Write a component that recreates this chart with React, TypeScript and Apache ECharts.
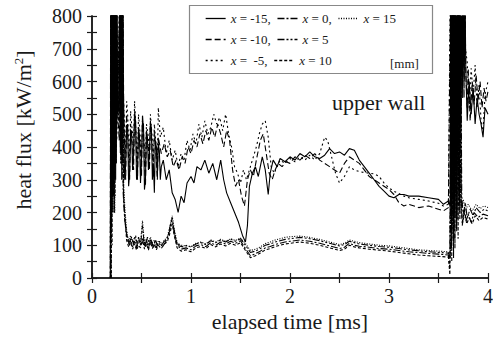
import React, { useEffect, useRef } from "react";
import * as echarts from "echarts";

// elapsed time [ms], heat flux [kW/m2]
const seriesNames = ["x = -15", "x = -10", "x = -5", "x = 0", "x = 5", "x = 10", "x = 15"];

const xm15: number[][] = [
  [0.185, 0], [0.19, 900], [0.193, 150], [0.197, 900], [0.2, 300], [0.204, 900], [0.207, 250], [0.211, 900], [0.215, 400], [0.219, 900],
  [0.223, 200], [0.227, 900], [0.231, 350], [0.235, 900], [0.239, 300], [0.243, 900], [0.247, 450], [0.25, 900], [0.26, 500], [0.27, 520],
  [0.28, 900], [0.285, 420], [0.29, 900], [0.295, 380], [0.3, 900], [0.305, 450], [0.31, 900], [0.32, 480], [0.33, 300], [0.34, 350],
  [0.35, 450], [0.36, 470], [0.37, 280], [0.38, 320], [0.39, 440], [0.4, 450], [0.41, 330], [0.42, 380], [0.43, 500], [0.44, 480],
  [0.45, 300], [0.46, 330], [0.47, 460], [0.48, 420], [0.49, 290], [0.5, 360], [0.51, 480], [0.52, 470], [0.53, 270], [0.54, 300],
  [0.55, 450], [0.56, 430], [0.57, 330], [0.58, 380], [0.59, 470], [0.6, 460], [0.61, 300], [0.62, 350], [0.63, 260], [0.64, 420],
  [0.65, 400], [0.66, 310], [0.67, 410], [0.68, 390], [0.69, 300], [0.7, 340], [0.72, 360], [0.75, 300], [0.78, 330], [0.81, 260],
  [0.84, 240], [0.87, 200], [0.9, 250], [0.93, 230], [0.96, 290], [1.0, 310], [1.03, 290], [1.06, 340], [1.1, 330], [1.14, 360],
  [1.18, 320], [1.22, 350], [1.26, 300], [1.3, 360], [1.33, 300], [1.36, 260], [1.4, 230], [1.44, 200], [1.48, 170], [1.52, 130],
  [1.55, 110], [1.57, 160], [1.59, 280], [1.62, 320], [1.65, 340], [1.68, 310], [1.72, 370], [1.75, 330], [1.78, 255], [1.8, 320],
  [1.83, 360], [1.87, 340], [1.9, 365], [1.95, 355], [2.0, 370], [2.05, 360], [2.1, 380], [2.15, 370], [2.2, 385], [2.25, 370],
  [2.3, 365], [2.35, 375], [2.4, 395], [2.45, 380], [2.5, 385], [2.55, 375], [2.6, 395], [2.65, 390], [2.7, 360], [2.75, 340],
  [2.8, 320], [2.85, 300], [2.9, 280], [2.95, 265], [3.0, 250], [3.05, 245], [3.1, 255], [3.15, 255], [3.2, 250], [3.3, 250],
  [3.4, 245], [3.5, 240], [3.55, 225], [3.6, 235], [3.62, 220], [3.625, 900], [3.632, 150], [3.64, 900], [3.648, 250], [3.656, 900],
  [3.664, 300], [3.672, 900], [3.68, 350], [3.688, 900], [3.696, 400], [3.704, 900], [3.712, 450], [3.72, 900], [3.728, 500], [3.736, 900],
  [3.744, 550], [3.752, 900], [3.76, 600], [3.768, 900], [3.775, 650], [3.79, 480], [3.81, 600], [3.83, 500], [3.85, 580], [3.87, 470],
  [3.89, 550], [3.91, 500], [3.93, 470], [3.95, 430], [3.97, 520], [4.0, 500],
];

const xm10: number[][] = [
  [0.185, 0], [0.188, 900], [0.192, 200], [0.196, 900], [0.2, 350], [0.203, 900], [0.206, 300], [0.21, 900], [0.214, 250], [0.218, 900],
  [0.222, 400], [0.226, 900], [0.23, 300], [0.234, 900], [0.238, 450], [0.242, 900], [0.246, 350], [0.249, 900], [0.26, 500], [0.275, 420],
  [0.282, 900], [0.287, 400], [0.292, 900], [0.297, 450], [0.302, 900], [0.308, 500], [0.312, 900], [0.32, 520], [0.33, 400], [0.34, 300],
  [0.35, 500], [0.36, 440], [0.37, 360], [0.38, 300], [0.39, 470], [0.4, 420], [0.41, 400], [0.42, 330], [0.43, 510], [0.44, 470],
  [0.45, 370], [0.46, 300], [0.47, 460], [0.48, 430], [0.49, 390], [0.5, 310], [0.51, 500], [0.52, 450], [0.53, 350], [0.54, 280],
  [0.55, 440], [0.56, 400], [0.57, 400], [0.58, 330], [0.59, 480], [0.6, 430], [0.61, 380], [0.62, 310], [0.63, 450], [0.64, 410],
  [0.65, 360], [0.66, 300], [0.67, 430], [0.7, 380], [0.73, 410], [0.76, 370], [0.79, 390], [0.82, 340], [0.85, 360], [0.88, 330],
  [0.91, 370], [0.94, 350], [0.97, 400], [1.0, 380], [1.03, 420], [1.06, 400], [1.09, 440], [1.12, 410], [1.15, 450], [1.18, 420],
  [1.21, 460], [1.24, 430], [1.27, 470], [1.3, 440], [1.33, 400], [1.36, 450], [1.39, 420], [1.42, 330], [1.45, 280], [1.48, 300],
  [1.51, 250], [1.54, 220], [1.57, 300], [1.6, 330], [1.63, 310], [1.66, 360], [1.7, 420], [1.73, 440], [1.76, 380], [1.79, 320],
  [1.82, 300], [1.85, 330], [1.88, 350], [1.92, 340], [1.96, 355], [2.0, 350], [2.05, 370], [2.1, 360], [2.15, 375], [2.2, 365],
  [2.25, 380], [2.3, 360], [2.35, 350], [2.4, 340], [2.45, 330], [2.5, 320], [2.55, 350], [2.6, 370], [2.65, 360], [2.7, 350],
  [2.75, 330], [2.8, 310], [2.85, 300], [2.9, 290], [2.95, 280], [3.0, 270], [3.05, 255], [3.1, 230], [3.15, 220], [3.2, 225],
  [3.3, 215], [3.4, 220], [3.5, 210], [3.55, 205], [3.6, 215], [3.622, 900], [3.63, 200], [3.638, 900], [3.646, 300], [3.654, 900],
  [3.662, 200], [3.67, 900], [3.678, 400], [3.686, 900], [3.694, 350], [3.702, 900], [3.71, 500], [3.718, 900], [3.726, 450], [3.734, 900],
  [3.742, 600], [3.75, 900], [3.758, 550], [3.766, 900], [3.776, 620], [3.79, 520], [3.8, 640], [3.82, 480], [3.84, 600], [3.86, 530],
  [3.88, 620], [3.9, 540], [3.92, 600], [3.94, 520], [3.96, 580], [3.98, 540], [4.0, 570],
];

const xm5: number[][] = [
  [0.185, 0], [0.191, 900], [0.195, 250], [0.199, 900], [0.202, 350], [0.206, 900], [0.209, 200], [0.213, 900], [0.217, 300], [0.221, 900],
  [0.225, 350], [0.229, 900], [0.233, 250], [0.237, 900], [0.241, 400], [0.245, 900], [0.25, 420], [0.265, 600], [0.28, 900], [0.284, 500],
  [0.289, 900], [0.294, 520], [0.299, 900], [0.304, 560], [0.309, 900], [0.315, 580], [0.33, 450], [0.34, 380], [0.35, 540], [0.36, 500],
  [0.37, 420], [0.38, 360], [0.39, 510], [0.4, 470], [0.41, 440], [0.42, 380], [0.43, 540], [0.44, 480], [0.45, 400], [0.46, 360],
  [0.47, 500], [0.48, 460], [0.49, 420], [0.5, 350], [0.51, 480], [0.52, 440], [0.53, 400], [0.54, 340], [0.55, 470], [0.56, 450],
  [0.57, 430], [0.58, 370], [0.59, 500], [0.6, 460], [0.61, 420], [0.62, 360], [0.63, 470], [0.64, 430], [0.65, 400], [0.66, 350],
  [0.67, 520], [0.69, 430], [0.72, 460], [0.75, 380], [0.78, 420], [0.81, 360], [0.84, 390], [0.87, 340], [0.9, 380], [0.93, 360],
  [0.96, 420], [0.99, 390], [1.02, 440], [1.05, 410], [1.08, 470], [1.11, 430], [1.14, 480], [1.17, 440], [1.2, 460], [1.23, 500],
  [1.26, 470], [1.29, 490], [1.32, 450], [1.35, 500], [1.38, 440], [1.41, 400], [1.44, 340], [1.47, 320], [1.5, 290], [1.53, 330],
  [1.56, 300], [1.6, 340], [1.63, 370], [1.66, 400], [1.69, 440], [1.72, 470], [1.75, 480], [1.78, 430], [1.81, 340], [1.84, 320],
  [1.87, 340], [1.9, 360], [1.95, 350], [2.0, 365], [2.05, 355], [2.1, 370], [2.15, 360], [2.2, 375], [2.25, 360], [2.3, 380],
  [2.35, 430], [2.38, 420], [2.42, 370], [2.46, 320], [2.5, 290], [2.55, 310], [2.6, 340], [2.65, 330], [2.7, 325], [2.75, 322],
  [2.8, 320], [2.85, 318], [2.9, 310], [2.95, 290], [3.0, 275], [3.05, 265], [3.1, 258], [3.15, 250], [3.2, 245], [3.3, 240],
  [3.4, 235], [3.5, 228], [3.55, 220], [3.6, 225], [3.619, 900], [3.627, 300], [3.635, 900], [3.643, 200], [3.651, 900], [3.659, 350],
  [3.667, 900], [3.675, 250], [3.683, 900], [3.691, 400], [3.699, 900], [3.707, 450], [3.715, 900], [3.723, 520], [3.731, 900], [3.739, 600],
  [3.747, 900], [3.755, 650], [3.763, 900], [3.772, 700], [3.79, 660], [3.81, 520], [3.83, 640], [3.85, 560], [3.87, 650], [3.89, 520],
  [3.91, 590], [3.93, 480], [3.95, 450], [3.97, 560], [4.0, 600],
];

const x0: number[][] = [
  [0.19, 0], [0.194, 900], [0.198, 150], [0.202, 900], [0.206, 250], [0.21, 900], [0.214, 350], [0.218, 900], [0.222, 300], [0.226, 900],
  [0.23, 350], [0.234, 900], [0.238, 450], [0.242, 900], [0.246, 500], [0.25, 900], [0.255, 550], [0.27, 480], [0.281, 900], [0.286, 380],
  [0.291, 900], [0.296, 420], [0.301, 900], [0.306, 350], [0.311, 900], [0.315, 260], [0.33, 180], [0.35, 130], [0.37, 105], [0.39, 120],
  [0.41, 95], [0.43, 115], [0.45, 90], [0.47, 125], [0.49, 100], [0.51, 160], [0.53, 95], [0.55, 115], [0.57, 90], [0.59, 120],
  [0.61, 100], [0.63, 110], [0.65, 92], [0.67, 108], [0.7, 98], [0.73, 112], [0.76, 120], [0.79, 150], [0.81, 185], [0.83, 140],
  [0.86, 100], [0.9, 88], [0.95, 92], [1.0, 86], [1.05, 98], [1.1, 102], [1.15, 96], [1.2, 108], [1.25, 100], [1.3, 110],
  [1.35, 104], [1.4, 112], [1.45, 106], [1.5, 114], [1.55, 90], [1.6, 68], [1.65, 74], [1.7, 82], [1.75, 92], [1.8, 96],
  [1.85, 102], [1.9, 106], [1.95, 110], [2.0, 112], [2.1, 116], [2.2, 112], [2.3, 106], [2.4, 98], [2.5, 90], [2.55, 94],
  [2.6, 106], [2.65, 100], [2.7, 97], [2.8, 94], [2.9, 90], [3.0, 88], [3.1, 84], [3.2, 80], [3.3, 78], [3.4, 75],
  [3.5, 73], [3.6, 70], [3.615, 30], [3.624, 900], [3.632, 90], [3.64, 900], [3.648, 150], [3.656, 900], [3.664, 120], [3.672, 900],
  [3.68, 200], [3.688, 900], [3.696, 180], [3.704, 900], [3.712, 230], [3.72, 900], [3.73, 230], [3.74, 160], [3.76, 210], [3.78, 175],
  [3.8, 195], [3.83, 170], [3.86, 200], [3.9, 185], [3.95, 195], [4.0, 190],
];

const x5: number[][] = [
  [0.19, 0], [0.196, 900], [0.2, 200], [0.204, 900], [0.208, 300], [0.212, 900], [0.216, 250], [0.22, 900], [0.224, 350], [0.228, 900],
  [0.232, 300], [0.236, 900], [0.24, 400], [0.244, 900], [0.248, 450], [0.265, 620], [0.283, 900], [0.288, 420], [0.293, 900], [0.298, 380],
  [0.303, 900], [0.31, 320], [0.325, 220], [0.34, 160], [0.36, 120], [0.38, 100], [0.4, 125], [0.42, 105], [0.44, 130], [0.46, 98],
  [0.48, 112], [0.5, 100], [0.52, 118], [0.54, 95], [0.56, 125], [0.58, 105], [0.6, 115], [0.62, 92], [0.64, 118], [0.66, 100],
  [0.68, 112], [0.71, 95], [0.74, 108], [0.77, 130], [0.8, 175], [0.82, 160], [0.85, 115], [0.88, 98], [0.92, 95], [0.96, 100],
  [1.0, 94], [1.05, 104], [1.1, 108], [1.15, 102], [1.2, 114], [1.25, 108], [1.3, 116], [1.35, 110], [1.4, 118], [1.45, 112],
  [1.5, 120], [1.55, 100], [1.6, 78], [1.65, 82], [1.7, 90], [1.75, 100], [1.8, 104], [1.85, 110], [1.9, 114], [1.95, 118],
  [2.0, 120], [2.1, 124], [2.2, 120], [2.3, 114], [2.4, 106], [2.5, 98], [2.55, 102], [2.6, 112], [2.65, 108], [2.7, 104],
  [2.8, 100], [2.9, 96], [3.0, 94], [3.1, 90], [3.2, 86], [3.3, 83], [3.4, 80], [3.5, 78], [3.6, 76], [3.62, 60],
  [3.628, 900], [3.636, 120], [3.644, 900], [3.652, 60], [3.66, 900], [3.668, 180], [3.676, 900], [3.684, 140], [3.692, 900], [3.7, 220],
  [3.708, 900], [3.716, 180], [3.724, 800], [3.735, 250], [3.75, 190], [3.77, 230], [3.79, 185], [3.82, 210], [3.85, 190], [3.88, 215],
  [3.92, 200], [3.96, 210], [4.0, 205],
];

const x10: number[][] = [
  [0.195, 0], [0.199, 900], [0.203, 100], [0.207, 900], [0.211, 250], [0.215, 900], [0.219, 300], [0.223, 900], [0.227, 200], [0.231, 900],
  [0.235, 400], [0.239, 900], [0.243, 350], [0.247, 900], [0.26, 500], [0.275, 560], [0.285, 900], [0.29, 350], [0.295, 900], [0.3, 300],
  [0.305, 900], [0.32, 240], [0.335, 170], [0.35, 115], [0.37, 95], [0.39, 110], [0.41, 88], [0.43, 105], [0.45, 85], [0.47, 100],
  [0.49, 92], [0.51, 120], [0.53, 88], [0.55, 105], [0.57, 85], [0.59, 110], [0.61, 90], [0.63, 102], [0.65, 86], [0.67, 100],
  [0.7, 90], [0.73, 104], [0.76, 110], [0.79, 140], [0.81, 165], [0.83, 130], [0.86, 92], [0.9, 82], [0.95, 86], [1.0, 80],
  [1.05, 92], [1.1, 96], [1.15, 90], [1.2, 102], [1.25, 95], [1.3, 104], [1.35, 98], [1.4, 106], [1.45, 100], [1.5, 108],
  [1.55, 84], [1.6, 62], [1.65, 68], [1.7, 76], [1.75, 86], [1.8, 90], [1.85, 96], [1.9, 100], [1.95, 104], [2.0, 106],
  [2.1, 110], [2.2, 106], [2.3, 100], [2.4, 92], [2.5, 84], [2.55, 88], [2.6, 100], [2.65, 95], [2.7, 92], [2.8, 88],
  [2.9, 85], [3.0, 82], [3.1, 78], [3.2, 74], [3.3, 70], [3.4, 68], [3.5, 66], [3.6, 64], [3.615, 10], [3.626, 900],
  [3.634, 50], [3.642, 900], [3.65, 110], [3.658, 900], [3.666, 90], [3.674, 900], [3.682, 150], [3.69, 900], [3.698, 120], [3.706, 700],
  [3.714, 200], [3.722, 600], [3.73, 200], [3.745, 170], [3.765, 200], [3.785, 165], [3.81, 185], [3.84, 165], [3.87, 190], [3.91, 175],
  [3.95, 185], [4.0, 180],
];

const x15: number[][] = [
  [0.19, 0], [0.195, 900], [0.2, 300], [0.205, 900], [0.21, 200], [0.215, 900], [0.22, 350], [0.225, 900], [0.23, 200], [0.235, 900],
  [0.24, 450], [0.245, 900], [0.25, 580], [0.27, 620], [0.285, 900], [0.29, 450], [0.297, 900], [0.303, 500], [0.31, 900], [0.32, 280],
  [0.335, 200], [0.35, 145], [0.37, 115], [0.39, 130], [0.41, 108], [0.43, 125], [0.45, 100], [0.47, 115], [0.49, 108], [0.51, 175],
  [0.53, 105], [0.55, 120], [0.57, 100], [0.59, 125], [0.61, 108], [0.63, 115], [0.65, 100], [0.67, 112], [0.7, 105], [0.73, 115],
  [0.76, 125], [0.79, 160], [0.81, 190], [0.83, 150], [0.86, 108], [0.9, 100], [0.95, 98], [1.0, 96], [1.05, 106], [1.1, 110],
  [1.15, 104], [1.2, 116], [1.25, 110], [1.3, 118], [1.35, 112], [1.4, 120], [1.45, 115], [1.5, 122], [1.55, 105], [1.6, 84],
  [1.65, 88], [1.7, 95], [1.75, 105], [1.8, 110], [1.85, 116], [1.9, 120], [1.95, 124], [2.0, 126], [2.1, 128], [2.2, 124],
  [2.3, 118], [2.4, 110], [2.5, 102], [2.55, 106], [2.6, 116], [2.65, 112], [2.7, 108], [2.8, 104], [2.9, 100], [3.0, 98],
  [3.1, 94], [3.2, 90], [3.3, 86], [3.4, 84], [3.5, 82], [3.6, 80], [3.62, 70], [3.63, 900], [3.638, 160], [3.646, 900],
  [3.654, 220], [3.662, 900], [3.67, 260], [3.678, 900], [3.686, 200], [3.694, 900], [3.702, 280], [3.71, 900], [3.72, 280], [3.73, 215],
  [3.75, 240], [3.77, 205], [3.8, 225], [3.84, 205], [3.88, 225], [3.92, 212], [3.96, 220], [4.0, 215],
];

const seriesData = [xm15, xm10, xm5, x0, x5, x10, x15];
const dashes: any[] = ["solid", [6, 3], [2, 3], [7, 2, 2, 2], [7, 2, 2, 2, 2, 2], [3, 2], [1, 1.5]];

const legendRows = [
  ["x = -15", "x = 0", "x = 15"],
  ["x = -10", "x = 5"],
  ["x = -5", "x = 10"],
];
const legendText: Record<string, string> = {
  "x = -15": " = -15,",
  "x = 0": " = 0,",
  "x = 15": " = 15",
  "x = -10": " = -10,",
  "x = 5": " = 5",
  "x = -5": " =  -5,",
  "x = 10": " = 10",
};

const xTicks = { min: 0, max: 4, interval: 0.5 };
const yTicks = { min: 0, max: 800, interval: 50 };

const FONT = "Liberation Serif";
const INK = "#1a1a1a";

export default function App() {
  const ref = useRef<HTMLDivElement>(null);
  useEffect(() => {
    if (!ref.current) return;
    const chart = echarts.init(ref.current, undefined, { renderer: "svg" });
    const axisLine = { show: true, lineStyle: { color: INK, width: 1.5 } };
    const axisTick = { show: true, inside: true, length: 5, lineStyle: { color: INK, width: 1.2 } };
    const option: any = {
      animation: false,
      backgroundColor: "#fff",
      textStyle: { fontFamily: FONT },
      grid: { left: 92, right: 5, top: 16, bottom: 62, containLabel: false, outerBoundsMode: "none" },
      xAxis: [
        {
          type: "value", position: "bottom", ...xTicks,
          axisLine, axisTick, splitLine: { show: false },
          axisLabel: {
            margin: 8, color: INK, fontFamily: FONT, fontSize: 20,
            formatter: (v: number) => (Math.abs(v - Math.round(v)) < 1e-6 ? String(Math.round(v)) : ""),
          },
          name: "elapsed time [ms]", nameLocation: "middle", nameGap: 32,
          nameTextStyle: { color: INK, fontFamily: FONT, fontSize: 22 },
        },
        {
          type: "value", position: "top", ...xTicks,
          axisLine, axisTick, splitLine: { show: false }, axisLabel: { show: false },
        },
      ],
      yAxis: [
        {
          type: "value", position: "left", ...yTicks,
          axisLine, axisTick, splitLine: { show: false },
          axisLabel: {
            margin: 10, color: INK, fontFamily: FONT, fontSize: 20,
            formatter: (v: number) => (v % 100 === 0 ? String(v) : ""),
          },
          name: "{p|}{a|heat flux [kW/m}{s|2}{a|]}", nameLocation: "middle", nameGap: 58, nameRotate: 90,
          nameTextStyle: {
            color: INK, fontFamily: FONT, fontSize: 22,
            rich: {
              p: { width: 34, fontSize: 22 },
              a: { color: INK, fontFamily: FONT, fontSize: 22 },
              s: { color: INK, fontFamily: FONT, fontSize: 13, verticalAlign: "top", padding: [0, 0, 8, 0] },
            },
          },
        },
        {
          type: "value", position: "right", ...yTicks,
          axisLine, axisTick, splitLine: { show: false }, axisLabel: { show: false },
        },
      ],
      legend: legendRows.map((row, i) => ({
        data: row,
        left: 205,
        top: 12 + i * 21,
        orient: "horizontal",
        itemWidth: 20,
        itemHeight: 10,
        itemGap: 6,
        padding: 0,
        selectedMode: false,
        itemStyle: { opacity: 0 },
        lineStyle: { width: 1.3 },
        textStyle: {
          color: INK, fontFamily: FONT, fontSize: 13,
          rich: { i: { fontStyle: "italic", fontFamily: FONT, fontSize: 13, color: INK } },
        },
        formatter: (name: string) => "{i|x}" + legendText[name],
      })),
      graphic: [
        {
          type: "rect", z: 0,
          shape: { x: 189.5, y: 5.5, width: 243, height: 68 },
          style: { fill: "#fff", stroke: "#888", lineWidth: 1.2 },
        },
        {
          type: "text", x: 390, y: 63, z: 10,
          style: { text: "[mm]", fontFamily: FONT, fontSize: 13, fill: INK, verticalAlign: "middle" },
        },
        {
          type: "text", x: 332, y: 102, z: 10,
          style: { text: "upper wall", fontFamily: FONT, fontSize: 22, fill: INK, verticalAlign: "middle" },
        },
      ],
      series: seriesNames.map((name, i) => ({
        name,
        type: "line",
        data: seriesData[i],
        symbol: "none",
        showSymbol: false,
        clip: true,
        silent: true,
        xAxisIndex: 0,
        yAxisIndex: 0,
        lineStyle: { color: "#000", width: 1.1, type: dashes[i] },
        itemStyle: { color: "#000" },
      })),
    };
    chart.setOption(option);
    return () => chart.dispose();
  }, []);
  return <div ref={ref} style={{ position: "absolute", left: 0, top: 0, width: 493, height: 340 }} />;
}
